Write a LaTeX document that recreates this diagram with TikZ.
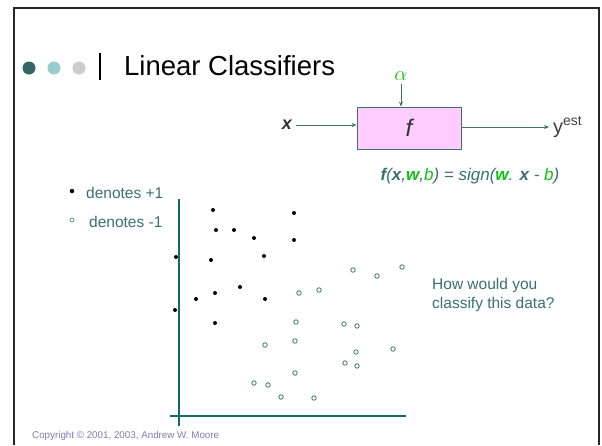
\documentclass[tikz,border=0pt]{standalone}
\usepackage{fontspec}
\setmainfont{Liberation Sans}
\usetikzlibrary{arrows.meta}
\definecolor{tealtxt}{HTML}{3A7070}
\definecolor{axis}{HTML}{116B6B}
\definecolor{gr}{HTML}{10C010}
\definecolor{boxfill}{HTML}{FFCCFF}
\definecolor{boxline}{HTML}{3F6F6F}
\definecolor{dotA}{HTML}{336666}
\definecolor{dotB}{HTML}{99CCCC}
\definecolor{dotC}{HTML}{CCCCCC}
\definecolor{copy}{HTML}{7C7CB0}
\tikzset{
  posdot/.style={circle,fill=black,inner sep=0pt,minimum size=4pt},
  negdot/.style={circle,draw=tealtxt,fill=white,line width=0.8pt,inner sep=0pt,minimum size=4.5pt},
  arr/.style={draw=boxline,line width=0.8pt,-{Stealth[length=5pt,width=4pt]}},
  lbl/.style={inner sep=0pt,anchor=west,text=tealtxt,font=\fontsize{15.5}{18}\selectfont},
}
\begin{document}
\begin{tikzpicture}[x=1pt,y=-1pt]
\useasboundingbox (0,0) rectangle (602,445);
% frame
\draw[line width=2.5pt,black!85] (14,445) -- (14,8) -- (599,8) -- (599,445);
% title
\fill[dotA] (29,68) circle (6.5);
\fill[dotB] (54,68) circle (6.5);
\fill[dotC] (79,68) circle (6.5);
\draw[line width=1.8pt,black] (100,53) -- (100,80);
\node[inner sep=0pt,anchor=base west,font=\fontsize{27.5}{30}\selectfont] (title) at (124,75) {Linear Classifiers};
% block diagram
\node[draw=boxline,fill=boxfill,line width=0.8pt,minimum width=104pt,minimum height=42pt,inner sep=0pt,
      font=\fontsize{24}{26}\selectfont\itshape,text=black!80] (f) at (409,128) {f};
\node[text=gr,inner sep=0pt,font=\fontsize{22}{24}\selectfont] (alpha) at (401,76) {$\alpha$};
\coordinate (atop) at (401,84);
\draw[arr] (atop) -- (f.north -| atop);
\node[inner sep=0pt,font=\fontsize{18}{20}\selectfont\bfseries\itshape,text=black!80] (x) at (287,125) {x};
\draw[arr] (x.east) ++(4,0) coordinate (xs) -- (f.west |- xs);
\node[inner sep=0pt,anchor=west,font=\fontsize{20}{22}\selectfont,text=black!75] (y) at (553,127) {y\textsuperscript{est}};
\draw[arr] (f.east |- y) -- ([xshift=-4pt]y.west);
% formula
\node[inner sep=0pt,text=tealtxt,font=\fontsize{17}{20}\selectfont\itshape] (eq) at (470,176)
 {\textbf{f}(\textbf{x},\textcolor{gr}{\textbf{w}},\textcolor{gr}{b}) = sign(\textcolor{gr}{\textbf{w}.} \textbf{x} - \textcolor{gr}{b})};
% legend
\node[posdot,minimum size=4.5pt] (lp) at (72,191) {};
\node[lbl] (lpt) at (86,193) {denotes +1};
\node[negdot,line width=0.6pt,minimum size=4pt] (ln) at (72,220) {};
\node[lbl] (lnt) at (89,222) {denotes -1};
% axes
\coordinate (vt) at (179,199);
\coordinate (vb) at (179,426);
\coordinate (hl) at (170,416);
\coordinate (hr) at (406,416);
\draw[axis,line width=2.6pt] (vt) -- (vb);
\draw[axis,line width=2.6pt] (hl) -- (hr);
% positives
\foreach \px/\py [count=\i] in {213/210,294/213,216/230,234/230,254/238,294/240,176/257,211/260,264/256,196/299,215/293,240/287,265/299,175/310,215/323}
  \node[posdot] (p\i) at (\px,\py) {};
% negatives
\foreach \px/\py [count=\i] in {353/270,377/276,402/267,299/293,319/290,296/322,344/324,357/326,265/345,295/341,356/352,393/349,345/363,357/366,295/373,254/383,268/385,281/397,314/398}
  \node[negdot] (n\i) at (\px,\py) {};
% question
\node[inner sep=0pt,anchor=north west,text=tealtxt,align=left,font=\fontsize{15.5}{19}\selectfont] (q) at (432,278) {How would you\\classify this data?};
% copyright
\node[inner sep=0pt,anchor=west,text=copy,font=\fontsize{9.8}{11}\selectfont] (c) at (32,436) {Copyright © 2001, 2003, Andrew W. Moore};
\end{tikzpicture}
\end{document}
